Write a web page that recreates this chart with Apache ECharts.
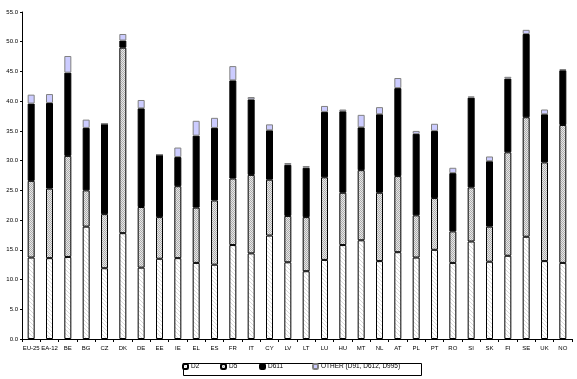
<!DOCTYPE html>
<html>
<head>
<meta charset="utf-8">
<script src="https://cdn.jsdelivr.net/npm/echarts@6/dist/echarts.min.js"></script>
<style>html,body{margin:0;padding:0;background:#fff;}#c{width:577px;height:379px;}</style>
</head>
<body>
<div id="c"></div>
<script>
const categories = ['EU-25','EA-12','BE','BG','CZ','DK','DE','EE','IE','EL','ES','FR','IT','CY','LV','LT','LU','HU','MT','NL','AT','PL','PT','RO','SI','SK','FI','SE','UK','NO'];
const d2 =    [13.7,13.6,13.8,18.9,11.9,17.8,12.0,13.5,13.6,12.8,12.5,15.8,14.4,17.4,12.9,11.4,13.3,15.8,16.6,13.1,14.6,13.7,15.0,12.8,16.4,13.0,14.0,17.2,13.1,12.8];
const d5 =    [12.9,11.7,17.0, 6.1, 9.1,31.2,10.2, 7.0,12.1, 9.3,10.8,11.2,13.2, 9.4, 7.8, 9.1,13.9, 8.8,11.8,11.5,12.8, 7.1, 8.7, 5.3, 9.1, 5.9,17.4,20.1,16.6,23.2];
const d611 =  [13.0,14.4,14.0,10.5,15.2, 1.2,16.6,10.5, 4.9,12.1,12.2,16.5,12.7, 8.3, 8.6, 8.3,11.0,13.7, 7.2,13.2,14.8,13.7,11.3, 9.8,15.1,11.0,12.4,14.0, 8.1, 9.2];
const other = [ 1.5, 1.5, 2.8, 1.4, 0.0, 1.1, 1.4, 0.0, 1.6, 2.5, 1.7, 2.4, 0.4, 1.0, 0.3, 0.3, 1.0, 0.3, 2.1, 1.2, 1.7, 0.5, 1.2, 0.9, 0.2, 0.8, 0.3, 0.7, 0.8, 0.2];
const seriesNames = ['D2','D5','D611','OTHER (D91, D612, D995)'];

function hatchPattern(){
  const c = document.createElement('canvas'); c.width = 4; c.height = 4;
  const x = c.getContext('2d');
  x.fillStyle = '#ffffff'; x.fillRect(0,0,4,4);
  x.strokeStyle = '#cfcfcf'; x.lineWidth = 0.8;
  for (let k = -4; k <= 4; k += 4){ x.beginPath(); x.moveTo(k,0); x.lineTo(k+4,4); x.stroke(); }
  return {image: c, repeat: 'repeat'};
}
function dotPattern(){
  const c = document.createElement('canvas'); c.width = 2; c.height = 2;
  const x = c.getContext('2d');
  x.fillStyle = '#e8e8e8'; x.fillRect(0,0,2,2);
  x.fillStyle = '#ababab'; x.fillRect(0,0,1,1); x.fillRect(1,1,1,1);
  return {image: c, repeat: 'repeat'};
}

const font = 'Liberation Sans';
const chart = echarts.init(document.getElementById('c'), null, {renderer: 'canvas'});
const styles = [
  {color: hatchPattern(), borderColor: '#000', borderWidth: 1},
  {color: dotPattern(), borderColor: '#000', borderWidth: 1},
  {color: '#000000', borderColor: '#000', borderWidth: 1},
  {color: '#ccccff', borderColor: '#808080', borderWidth: 1}
];
const values = [d2, d5, d611, other];
const legendLeft = [182, 220, 259, 312];
const legends = seriesNames.map((n, i) => ({
  left: legendLeft[i], top: 363,
  itemWidth: 5, itemHeight: 5, itemGap: 0, padding: 0,
  textStyle: {fontFamily: font, fontSize: 6.5, color: '#000', padding: [0,0,0,-2]},
  data: [n]
}));
chart.setOption({
  animation: false,
  backgroundColor: '#ffffff',
  grid: {left: 22, right: 5, top: 12, bottom: 40, containLabel: false},
  legend: legends,
  graphic: [{
    type: 'rect', left: 181, top: 361,
    shape: {x: 0.5, y: 0.5, width: 238, height: 12},
    style: {fill: 'none', stroke: '#000', lineWidth: 1},
    silent: true, z: -1
  }],
  xAxis: {
    type: 'category', data: categories, boundaryGap: true,
    axisLine: {lineStyle: {color: '#000', width: 1}},
    axisTick: {show: true, alignWithLabel: false, length: 3, lineStyle: {color: '#000'}},
    axisLabel: {interval: 0, fontFamily: font, fontSize: 6, color: '#000', margin: 6}
  },
  yAxis: {
    type: 'value', min: 0, max: 55, interval: 5,
    axisLine: {show: true, lineStyle: {color: '#000', width: 1}},
    axisTick: {show: true, length: 2, lineStyle: {color: '#000'}},
    splitLine: {show: false},
    axisLabel: {fontFamily: font, fontSize: 6, color: '#000', margin: 4, formatter: v => v.toFixed(1)}
  },
  series: seriesNames.map((n, i) => ({
    name: n, type: 'bar', stack: 'total', barWidth: 7,
    data: values[i], itemStyle: styles[i]
  }))
});
</script>
</body>
</html>
